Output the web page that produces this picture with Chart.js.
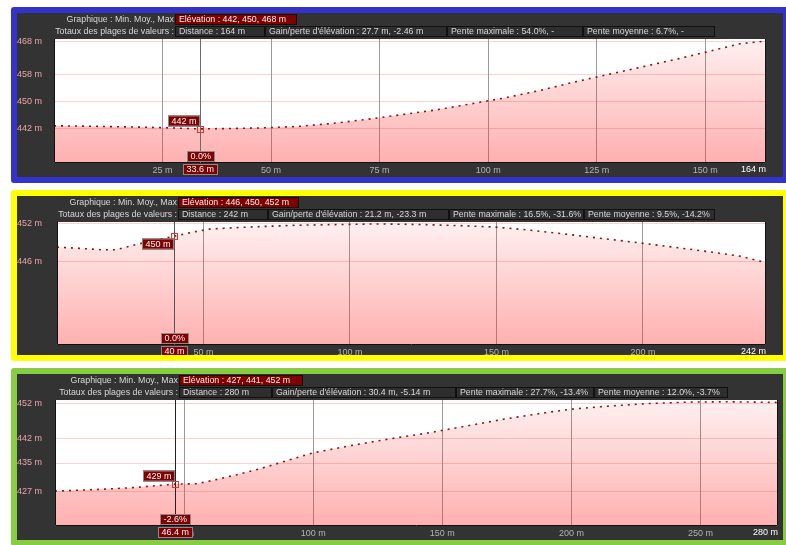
<!DOCTYPE html>
<html>
<head>
<meta charset="utf-8">
<script src="https://cdn.jsdelivr.net/npm/chart.js@4"></script>
<style>
html, body { margin: 0; padding: 0; background: #fff; overflow: hidden; width: 786px; height: 545px; }
.panel { position: absolute; left: 11px; width: 766px; border: 6px solid; border-radius: 3px; background: #333; }
.panel canvas { position: absolute; left: 0; top: 0; }
.hdr { position: absolute; height: 11px; font: 8.8px "Liberation Sans", Arial, sans-serif; line-height: 11px; color: #d8d8d8; white-space: nowrap; box-sizing: border-box; overflow: hidden; }
.lbl { text-align: right; }
.box { border: 1px solid #111; background: #2e2e2e; padding-left: 3px; line-height: 9px; }
.box.red { background: #800000; color: #eee; }
</style>
</head>
<body>

<div class="panel" id="p1" style="top:7px;height:164px;border-color:#3333cc"><canvas id="c1"></canvas></div>
<div class="panel" id="p2" style="top:190px;height:159px;border-color:#ffff00"><canvas id="c2"></canvas></div>
<div class="panel" id="p3" style="top:368px;height:166px;border-color:#88cc44"><canvas id="c3"></canvas></div>

<script>
// profil 1
const dist1 = [0, 8, 16, 24, 33.6, 40, 48, 56, 64, 72, 80, 88, 96, 104, 112, 120, 128, 136, 144, 152, 158, 164];
const elev1 = [442.9, 442.8, 442.6, 442.4, 442.0, 442.1, 442.3, 442.7, 443.6, 444.8, 446.2, 447.6, 449.4, 451.2, 453.4, 455.9, 458.2, 460.5, 462.8, 465.3, 467.2, 468.0];
const xTicks1 = [25, 50, 75, 100, 125, 150];
const yTicks1 = [468, 458, 450, 442];
const head1 = ["Élévation : 442, 450, 468 m", "Distance : 164 m", "Gain/perte d'élévation : 27.7 m, -2.46 m", "Pente maximale : 54.0%, -", "Pente moyenne : 6.7%, -"];
const cursor1 = [33.6, 442, "0.0%"];

// profil 2
const dist2 = [0, 8, 15, 20, 28, 34, 40, 46, 52, 60, 70, 82, 95, 110, 125, 140, 150, 160, 172, 185, 200, 212, 224, 233, 242];
const elev2 = [448.3, 448.1, 447.9, 447.9, 448.8, 449.4, 450.0, 450.6, 451.1, 451.3, 451.5, 451.7, 451.8, 451.9, 451.8, 451.6, 451.4, 451.0, 450.4, 449.7, 448.9, 448.2, 447.5, 446.9, 445.9];
const xTicks2 = [50, 100, 150, 200];
const yTicks2 = [452, 446];
const head2 = ["Élévation : 446, 450, 452 m", "Distance : 242 m", "Gain/perte d'élévation : 21.2 m, -23.3 m", "Pente maximale : 16.5%, -31.6%", "Pente moyenne : 9.5%, -14.2%"];
const cursor2 = [40, 450, "0.0%"];

// profil 3
const dist3 = [0, 10, 20, 30, 40, 46.4, 55, 62, 70, 80, 90, 100, 115, 130, 145, 160, 175, 190, 200, 215, 230, 245, 260, 270, 280];
const elev3 = [427.0, 427.3, 427.6, 428.0, 428.6, 429.0, 429.1, 430.2, 431.6, 433.5, 435.7, 437.9, 440.0, 441.9, 443.6, 445.6, 447.6, 449.3, 450.3, 451.2, 451.9, 452.3, 452.4, 452.3, 452.2];
const xTicks3 = [50, 100, 150, 200, 250];
const yTicks3 = [452, 442, 435, 427];
const head3 = ["Élévation : 427, 441, 452 m", "Distance : 280 m", "Gain/perte d'élévation : 30.4 m, -5.14 m", "Pente maximale : 27.7%, -13.4%", "Pente moyenne : 12.0%, -3.7%"];
const cursor3 = [46.4, 429, "-2.6%"];

const FONT = '"Liberation Sans", Arial, sans-serif';

const panels = [
    { el: "p1", canvas: "c1", w: 766, h: 164, dist: dist1, elev: elev1, xTicks: xTicks1, yTicks: yTicks1, head: head1, cursor: cursor1,
      yMin: 431.9, yMax: 468.6, plot: { l: 37, r: 749, t: 26, b: 150 }, boxes: [158, 248, 430, 566, 698], redW: 122, above: true, cursorColor: "#6a6a6a" },
    { el: "p2", canvas: "c2", w: 766, h: 159, dist: dist2, elev: elev2, xTicks: xTicks2, yTicks: yTicks2, head: head2, cursor: cursor2,
      yMin: 433.1, yMax: 452.2, plot: { l: 40, r: 749, t: 26, b: 149 }, boxes: [161, 251, 432, 567, 698], redW: 121, above: false, cursorColor: "#555" },
    { el: "p3", canvas: "c3", w: 766, h: 166, dist: dist3, elev: elev3, xTicks: xTicks3, yTicks: yTicks3, head: head3, cursor: cursor3,
      yMin: 417.1, yMax: 452.9, plot: { l: 38, r: 761, t: 26, b: 152 }, boxes: [162, 255, 439, 577, 711], redW: 124, above: true, cursorColor: "#222" }
];

function addDiv(parent, cls, text, left, top, width) {
    const d = document.createElement("div");
    d.className = cls;
    d.textContent = text;
    d.style.left = left + "px";
    d.style.top = top + "px";
    d.style.width = width + "px";
    parent.appendChild(d);
}

const cursorPlugin = {
    id: "cursor",
    beforeDraw(chart) {
        const { ctx, chartArea: a } = chart;
        ctx.save();
        ctx.fillStyle = "#fff";
        ctx.fillRect(a.left, a.top, a.right - a.left, a.bottom - a.top);
        ctx.restore();
    },
    afterDatasetsDraw(chart, args, o) {
        const { ctx, chartArea: a, scales: { x, y } } = chart;
        const cx = Math.round(x.getPixelForValue(o.dist)) + 0.5;
        const cy = Math.round(y.getPixelForValue(o.elev)) + 0.5;
        ctx.save();
        ctx.lineWidth = 1;
        ctx.strokeStyle = "#111";
        ctx.beginPath();
        ctx.moveTo(a.left + 0.5, a.top);
        ctx.lineTo(a.left + 0.5, a.bottom - 0.5);
        ctx.lineTo(a.right - 0.5, a.bottom - 0.5);
        ctx.lineTo(a.right - 0.5, a.top);
        ctx.stroke();

        ctx.strokeStyle = o.color;
        ctx.beginPath();
        ctx.moveTo(cx, a.top);
        ctx.lineTo(cx, a.bottom);
        ctx.stroke();
        ctx.strokeStyle = "#e83030";
        ctx.strokeRect(cx - 3, cy - 3, 6, 6);

        ctx.font = "9px " + FONT;
        ctx.textBaseline = "middle";
        const box = (txt, x0, y0, align) => {
            const w = Math.round(ctx.measureText(txt).width) + 7;
            const bx = Math.round(align === "right" ? x0 - w : x0 - w / 2);
            ctx.fillStyle = "#800000";
            ctx.fillRect(bx, y0, w, 11);
            ctx.strokeStyle = "#8a8a8a";
            ctx.strokeRect(bx + 0.5, y0 + 0.5, w - 1, 10);
            ctx.fillStyle = "#f4f4f4";
            ctx.textAlign = "left";
            ctx.fillText(txt, bx + 3.5, y0 + 6);
        };
        box(o.elev + " m", cx - 1, o.above ? cy - 14 : cy + 2, "right");
        box(o.slope, cx, a.bottom - 12, "center");
        box(o.dist + " m", cx, a.bottom + 1, "center");

        ctx.fillStyle = "#fff";
        ctx.textAlign = "right";
        ctx.fillText(x.max + " m", a.right, a.bottom + 7);
        ctx.restore();
    }
};

panels.forEach(p => {
    const el = document.getElementById(p.el);
    addDiv(el, "hdr lbl", "Graphique : Min. Moy., Max", 0, 1, p.boxes[0] - 1);
    addDiv(el, "hdr box red", p.head[0], p.boxes[0], 1, p.redW);
    addDiv(el, "hdr lbl", "Totaux des plages de valeurs :", 0, 13, p.boxes[0] - 1);
    for (let i = 1; i < 5; i++) {
        addDiv(el, "hdr box", p.head[i], p.boxes[i - 1 + (i === 1 ? 0 : 0)] + (i === 1 ? 0 : 0), 13, 0);
    }
    // fix positions/widths of row 2 boxes
    const row = el.querySelectorAll(".box:not(.red)");
    row.forEach((d, i) => {
        const l = i === 0 ? p.boxes[0] : p.boxes[i];
        const r = i === 0 ? p.boxes[1] : p.boxes[i + 1];
        d.style.left = l + "px";
        d.style.width = (r - l) + "px";
    });

    const cv = document.getElementById(p.canvas);
    cv.width = p.w;
    cv.height = p.h;
    cv.style.width = p.w + "px";
    cv.style.height = p.h + "px";

    new Chart(cv, {
        type: "line",
        data: {
            datasets: [{
                data: p.dist.map((d, i) => ({ x: d, y: p.elev[i] })),
                borderColor: "#8b1010",
                borderWidth: 1.6,
                borderDash: [2, 5],
                pointRadius: 0,
                tension: 0,
                fill: "start",
                backgroundColor: ctx => {
                    const a = ctx.chart.chartArea;
                    if (!a) return "rgba(255,40,40,0.2)";
                    const g = ctx.chart.ctx.createLinearGradient(0, a.top, 0, a.bottom);
                    g.addColorStop(0, "rgba(255,40,40,0.07)");
                    g.addColorStop(1, "rgba(255,40,40,0.37)");
                    return g;
                }
            }]
        },
        options: {
            animation: false,
            responsive: false,
            devicePixelRatio: 1,
            layout: { padding: { left: 0, top: p.plot.t, right: p.w - p.plot.r, bottom: 0 } },
            plugins: {
                legend: { display: false },
                tooltip: { enabled: false },
                cursor: { dist: p.cursor[0], elev: p.cursor[1], slope: p.cursor[2], above: p.above, color: p.cursorColor }
            },
            scales: {
                x: {
                    type: "linear",
                    min: 0,
                    max: p.dist[p.dist.length - 1],
                    afterBuildTicks: s => { s.ticks = p.xTicks.map(v => ({ value: v })); },
                    afterFit: s => { s.height = p.h - p.plot.b; },
                    border: { display: false },
                    grid: { color: "#9a9a9a", lineWidth: 1, drawTicks: false },
                    ticks: { color: "#b4b4b4", font: { family: FONT, size: 9 }, padding: 2, maxRotation: 0, autoSkip: false, callback: v => v + " m" }
                },
                y: {
                    min: p.yMin,
                    max: p.yMax,
                    afterBuildTicks: s => { s.ticks = p.yTicks.map(v => ({ value: v })); },
                    afterFit: s => { s.width = p.plot.l; },
                    border: { display: false },
                    grid: { color: "rgba(255,120,120,0.35)", lineWidth: 1, drawTicks: false },
                    ticks: { color: "#e6a6a6", font: { family: FONT, size: 9 }, crossAlign: "far", padding: 0, autoSkip: false, callback: v => v + " m" }
                }
            }
        },
        plugins: [cursorPlugin]
    });
});
</script>
</body>
</html>
